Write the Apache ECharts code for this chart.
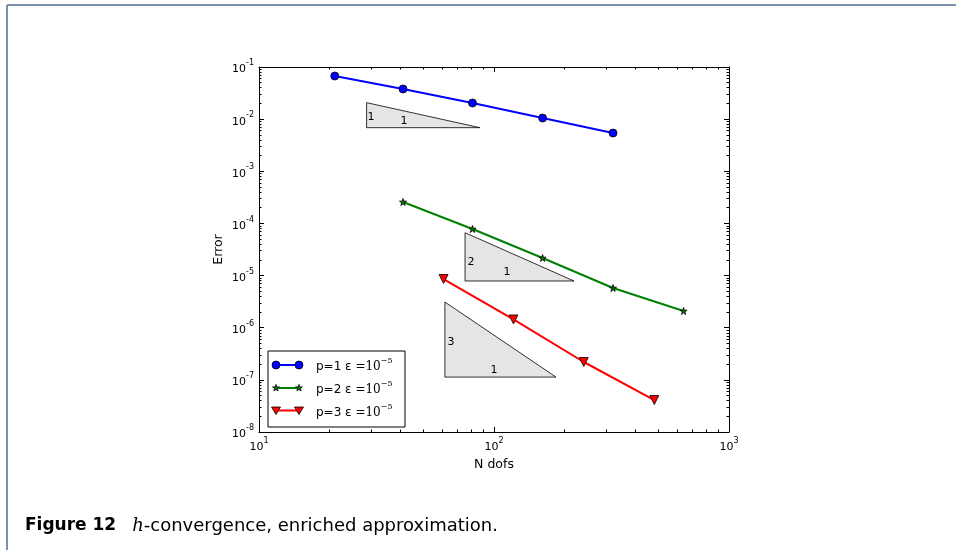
<!DOCTYPE html>
<html>
<head>
<meta charset="utf-8">
<script src="https://cdn.jsdelivr.net/npm/echarts@6/dist/echarts.min.js"></script>
<style>
html, body { margin: 0; padding: 0; background: #fff; }
#chart { width: 956px; height: 550px; }
</style>
</head>
<body>
<div id="chart"></div>
<script>
// values
const ndofsP1 = [21, 41, 81, 161, 321]
const errorP1 = [0.0672, 0.0379, 0.0204, 0.0105, 0.00542]
const ndofsP2 = [41, 81, 161, 321, 641]
const errorP2 = [2.58e-4, 7.82e-5, 2.17e-5, 5.77e-6, 2.09e-6]
const ndofsP3 = [61, 121, 241, 481]
const errorP3 = [8.59e-6, 1.44e-6, 2.2e-7, 4.1e-8]
const seriesNames = ['p=1', 'p=2', 'p=3']

// slope triangles: [x left, y top, x right, y bottom]
const slopeTriangles = [
  [28.7, 0.0207, 87.1, 0.00686],
  [75.3, 6.64e-5, 218.9, 7.87e-6],
  [61.8, 3.11e-6, 183.6, 1.13e-7]
]
const slopeRise = ['1', '2', '3']
const slopeRisePos = [[30.0, 0.011], [79.8, 1.82e-5], [65.6, 5.32e-7]]
const slopeRunPos = [[41.4, 0.0092], [113.5, 1.17e-5], [100, 1.55e-7]]

const xMinor = [20, 30, 40, 50, 60, 70, 80, 90, 200, 300, 400, 500, 600, 700, 800, 900]
const yMinor = []
for (let e = -8; e <= -2; e++) {
  for (let k = 2; k <= 9; k++) yMinor.push(+(k * Math.pow(10, e)).toPrecision(3))
}

const font = 'DejaVu Sans'
const serif = 'DejaVu Serif'
const starPath = 'path://M50,0 L61.2,34.5 L97.6,34.5 L68.2,55.9 L79.4,90.5 L50,69.1 L20.6,90.5 L31.8,55.9 L2.4,34.5 L38.8,34.5 Z'

const powRich = {
  b: { fontFamily: font, fontSize: 11, color: '#000', lineHeight: 16, verticalAlign: 'bottom' },
  s: { fontFamily: font, fontSize: 8, color: '#000', lineHeight: 16, verticalAlign: 'top' }
}
const powLabel = v => {
  const e = Math.round(Math.log10(v))
  return '{b|10}{s|' + e + '}'
}

const axisBase = {
  type: 'log',
  logBase: 10,
  gridIndex: 0,
  splitLine: { show: false },
  axisLine: { show: true, lineStyle: { color: '#000', width: 1 } }
}
const majorAxis = (pos, min, max, showLabel, extra) => Object.assign({}, axisBase, {
  position: pos,
  min: min,
  max: max,
  interval: 1,
  axisTick: { show: true, inside: true, length: 5, lineStyle: { color: '#000', width: 1 } },
  axisLabel: { show: showLabel, formatter: powLabel, rich: powRich, margin: 5 }
}, extra || {})
const minorAxis = (pos, min, max, values) => Object.assign({}, axisBase, {
  position: pos,
  min: min,
  max: max,
  axisLine: { show: false },
  axisTick: { show: true, inside: true, length: 2.5, customValues: values, lineStyle: { color: '#000', width: 1 } },
  axisLabel: { show: false }
})

// legend drawn by hand, matplotlib style (marker at both ends)
const legendX = 268, legendY = 351, legendW = 137, legendH = 76
const legendRows = [365, 388, 410.5]
const starPoints = (cx, cy, R) => {
  const pts = []
  for (let i = 0; i < 10; i++) {
    const r = i % 2 ? R * 0.382 : R
    const a = -Math.PI / 2 + i * Math.PI / 5
    pts.push([cx + r * Math.cos(a), cy + r * Math.sin(a)])
  }
  return pts
}
const legendMarker = (idx, cx, cy) => {
  if (idx === 0) return { type: 'circle', shape: { cx: cx, cy: cy, r: 4 }, style: { fill: '#0000ff', stroke: '#000', lineWidth: 0.8 } }
  if (idx === 1) return { type: 'polygon', shape: { points: starPoints(cx, cy, 3.6) }, style: { fill: '#008000', stroke: '#000', lineWidth: 0.8 } }
  return { type: 'polygon', shape: { points: [[cx - 4.5, cy - 3.5], [cx + 4.5, cy - 3.5], [cx, cy + 4]] }, style: { fill: '#ff0000', stroke: '#000', lineWidth: 0.8 } }
}
const legendColors = ['#0000ff', '#008000', '#ff0000']
const legendChildren = [{
  type: 'rect',
  shape: { x: legendX, y: legendY, width: legendW, height: legendH },
  style: { fill: '#fff', stroke: '#000', lineWidth: 1 }
}]
seriesNames.forEach((name, i) => {
  const y = legendRows[i]
  legendChildren.push({ type: 'line', shape: { x1: 276, y1: y, x2: 299, y2: y }, style: { stroke: legendColors[i], lineWidth: 2 } })
  legendChildren.push(legendMarker(i, 276, y))
  legendChildren.push(legendMarker(i, 299, y))
  legendChildren.push({
    type: 'text', x: 316, y: y,
    style: {
      text: '{a|' + name + ' \u03b5 }{m|=10}{s|\u22125}',
      verticalAlign: 'middle',
      rich: {
        a: { fontFamily: font, fontSize: 12, fill: '#000', lineHeight: 16, verticalAlign: 'bottom' },
        m: { fontFamily: serif, fontSize: 12, fill: '#000', lineHeight: 16, verticalAlign: 'bottom' },
        s: { fontFamily: serif, fontSize: 8, fill: '#000', lineHeight: 16, verticalAlign: 'top' }
      }
    }
  })
})

const chart = echarts.init(document.getElementById('chart'))
const option = {
  animation: false,
  backgroundColor: '#fff',
  grid: { left: 259, right: 227, top: 67, bottom: 118, containLabel: false, outerBoundsMode: 'none' },
  xAxis: [
    majorAxis('bottom', 10, 1000, true, {
      name: 'N dofs', nameLocation: 'middle', nameGap: 24,
      nameTextStyle: { fontFamily: font, fontSize: 12.5, color: '#000' }
    }),
    majorAxis('top', 10, 1000, false),
    minorAxis('bottom', 10, 1000, xMinor),
    minorAxis('top', 10, 1000, xMinor)
  ],
  yAxis: [
    majorAxis('left', 1e-8, 1e-1, true, {
      name: 'Error', nameLocation: 'middle', nameGap: 34, nameRotate: 90,
      nameTextStyle: { fontFamily: font, fontSize: 12.5, color: '#000' }
    }),
    majorAxis('right', 1e-8, 1e-1, false),
    minorAxis('left', 1e-8, 1e-1, yMinor),
    minorAxis('right', 1e-8, 1e-1, yMinor)
  ],
  series: [
    {
      type: 'custom',
      name: 'slopes',
      z: 1,
      encode: { x: [0, 2], y: [1, 3] },
      renderItem: (params, api) => {
        const i = params.dataIndex
        const a = api.coord([api.value(0), api.value(1)])
        const b = api.coord([api.value(0), api.value(3)])
        const c = api.coord([api.value(2), api.value(3)])
        const r = api.coord(slopeRisePos[i])
        const u = api.coord(slopeRunPos[i])
        const txt = (p, t) => ({
          type: 'text', x: p[0], y: p[1],
          style: { text: t, fill: '#000', font: '11px "DejaVu Sans"', align: 'center', verticalAlign: 'middle' }
        })
        return {
          type: 'group',
          children: [
            { type: 'polygon', shape: { points: [a, b, c] }, style: { fill: '#e5e5e5', stroke: '#000', lineWidth: 0.8 } },
            txt(r, slopeRise[i]),
            txt(u, '1')
          ]
        }
      },
      data: slopeTriangles
    },
    {
      type: 'line', name: seriesNames[0], z: 3,
      data: ndofsP1.map((n, i) => [n, errorP1[i]]),
      symbol: 'circle', symbolSize: 8,
      lineStyle: { color: '#0000ff', width: 2 },
      itemStyle: { color: '#0000ff', borderColor: '#000', borderWidth: 0.8 }
    },
    {
      type: 'line', name: seriesNames[1], z: 3,
      data: ndofsP2.map((n, i) => [n, errorP2[i]]),
      symbol: starPath, symbolSize: 7,
      lineStyle: { color: '#008000', width: 2 },
      itemStyle: { color: '#008000', borderColor: '#000', borderWidth: 0.8 }
    },
    {
      type: 'line', name: seriesNames[2], z: 3,
      data: ndofsP3.map((n, i) => [n, errorP3[i]]),
      symbol: 'triangle', symbolRotate: 180, symbolSize: 9,
      lineStyle: { color: '#ff0000', width: 2 },
      itemStyle: { color: '#ff0000', borderColor: '#000', borderWidth: 0.8 }
    }
  ],
  graphic: [
    { type: 'line', shape: { x1: 7, y1: 5, x2: 956, y2: 5 }, style: { stroke: '#7d91aa', lineWidth: 2 } },
    { type: 'line', shape: { x1: 7, y1: 5, x2: 7, y2: 550 }, style: { stroke: '#7d91aa', lineWidth: 2 } },
    { type: 'group', z: 100, children: legendChildren },
    {
      type: 'text', x: 25, y: 526,
      style: {
        text: '{b|Figure 12}{i|h}{r|-convergence, enriched approximation.}',
        verticalAlign: 'middle',
        rich: {
          b: { fontFamily: font, fontSize: 17, fontWeight: 'bold', fill: '#000' },
          i: { fontFamily: serif, fontSize: 18, fontStyle: 'italic', fill: '#000', padding: [0, 0, 0, 16] },
          r: { fontFamily: font, fontSize: 18, fill: '#000' }
        }
      }
    }
  ]
}
chart.setOption(option)
</script>
</body>
</html>
